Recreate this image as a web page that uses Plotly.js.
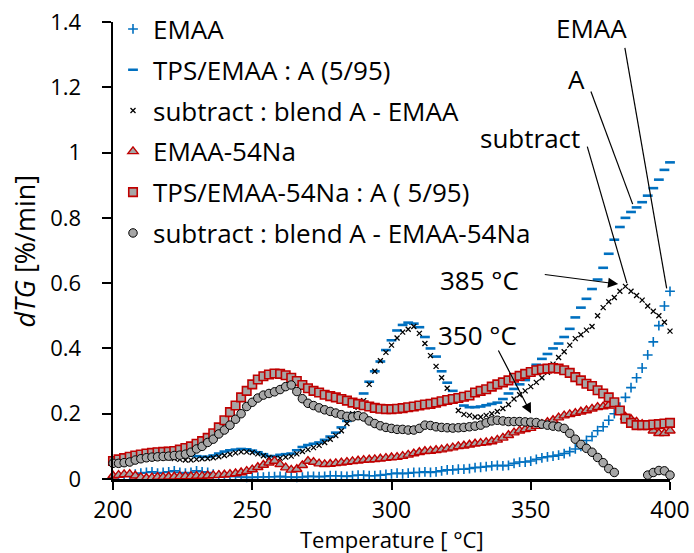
<!DOCTYPE html>
<html>
<head>
<meta charset="utf-8">
<script src="https://cdn.plot.ly/plotly-3.0.1.min.js"></script>
<style>
  html, body { margin: 0; padding: 0; background: #fff; }
  #chart { width: 694px; height: 553px; }
</style>
</head>
<body>
<div id="chart"></div>
<script>
// Temperature grid of the DTG runs [°C]
const tempC = [
  200,202,204,206,208,210,212,214,216,218,
  220,222,224,226,228,230,232,234,236,238,
  240,242,244,246,248,250,252,254,256,258,
  260,262,264,266,268,270,272,274,276,278,
  280,282,284,286,288,290,292,294,296,298,
  300,302,304,306,308,310,312,314,316,318,
  320,322,324,326,328,330,332,334,336,338,
  340,342,344,346,348,350,352,354,356,358,
  360,362,364,366,368,370,372,374,376,378,
  380,382,384,386,388,390,392,394,396,398,
  400
];

// dTG [%/min] — EMAA
const emaa = [
  0.005,0.008,0.010,0.012,0.015,0.018,0.020,0.022,0.018,0.020,
  0.022,0.025,0.020,0.018,0.020,0.025,0.022,0.020,0.015,0.012,
  0.010,0.008,0.008,0.006,0.005,0.005,0.006,0.006,0.007,0.007,
  0.008,0.006,0.006,0.005,0.006,0.008,0.008,0.007,0.008,0.010,
  0.010,0.009,0.008,0.010,0.012,0.012,0.010,0.010,0.012,0.014,
  0.016,0.018,0.016,0.018,0.020,0.020,0.022,0.020,0.022,0.025,
  0.028,0.028,0.030,0.030,0.032,0.035,0.036,0.038,0.040,0.042,
  0.040,0.042,0.048,0.052,0.052,0.055,0.060,0.065,0.068,0.070,
  0.073,0.078,0.084,0.092,0.100,0.118,0.130,0.148,0.160,0.180,
  0.200,0.220,0.250,0.280,0.310,0.340,0.380,0.420,0.470,0.530,
  0.575
];

// TPS/EMAA : A (5/95)
const blendA = [
  0.050,0.050,0.052,0.055,0.058,0.060,0.062,0.064,0.066,0.068,
  0.070,0.072,0.074,0.074,0.072,0.070,0.068,0.068,0.072,0.078,
  0.084,0.088,0.090,0.092,0.091,0.087,0.082,0.076,0.070,0.070,
  0.074,0.076,0.078,0.088,0.098,0.104,0.108,0.112,0.120,0.130,
  0.142,0.158,0.178,0.200,0.232,0.262,0.298,0.330,0.360,0.395,
  0.425,0.455,0.472,0.479,0.476,0.465,0.435,0.400,0.375,0.330,
  0.295,0.270,0.245,0.225,0.220,0.220,0.222,0.226,0.230,0.234,
  0.245,0.262,0.276,0.290,0.303,0.328,0.350,0.368,0.383,0.400,
  0.415,0.435,0.460,0.495,0.525,0.552,0.582,0.611,0.647,0.690,
  0.733,0.772,0.800,0.818,0.832,0.848,0.868,0.891,0.917,0.947,
  0.970
];

// subtract : blend A - EMAA
const subA = [
  0.055,0.056,0.058,0.060,0.062,0.064,0.065,0.066,0.066,0.066,
  0.065,0.063,0.060,0.058,0.058,0.060,0.062,0.063,0.065,0.068,
  0.072,0.076,0.080,0.083,0.083,0.081,0.077,0.071,0.066,0.063,
  0.064,0.067,0.070,0.077,0.084,0.090,0.096,0.103,0.112,0.122,
  0.133,0.148,0.170,0.200,0.220,0.240,0.290,0.330,0.362,0.388,
  0.410,0.432,0.450,0.459,0.467,0.446,0.415,0.378,0.345,0.310,
  0.278,0.245,0.210,0.198,0.195,0.190,0.190,0.195,0.200,0.207,
  0.216,0.228,0.245,0.258,0.270,0.283,0.296,0.310,0.327,0.352,
  0.372,0.390,0.410,0.430,0.442,0.456,0.467,0.500,0.525,0.543,
  0.556,0.575,0.590,0.575,0.562,0.548,0.530,0.514,0.500,0.480,
  0.453
];

// EMAA-54Na
const emaaNa = [
  0.010,0.012,0.014,0.015,0.010,0.005,0.003,0.004,0.006,0.006,
  0.007,0.007,0.008,0.008,0.008,0.009,0.009,0.010,0.011,0.012,
  0.013,0.015,0.017,0.020,0.024,0.029,0.036,0.043,0.050,0.055,
  0.045,0.035,0.028,0.030,0.042,0.055,0.052,0.047,0.045,0.046,
  0.048,0.050,0.052,0.054,0.056,0.058,0.059,0.060,0.062,0.064,
  0.066,0.067,0.070,0.074,0.078,0.082,0.085,0.086,0.088,0.090,
  0.093,0.096,0.100,0.102,0.105,0.108,0.110,0.112,0.115,0.120,
  0.126,0.134,0.142,0.148,0.152,0.156,0.162,0.168,0.174,0.180,
  0.188,0.194,0.198,0.202,0.206,0.210,0.215,0.220,0.222,0.226,
  0.224,0.205,0.190,0.183,0.175,0.168,0.160,0.148,0.140,0.140,
  0.148
];

// TPS/EMAA-54Na : A ( 5/95)
const blendNa = [
  0.055,0.060,0.064,0.068,0.072,0.075,0.078,0.080,0.082,0.083,
  0.084,0.086,0.090,0.095,0.100,0.108,0.116,0.126,0.140,0.158,
  0.180,0.205,0.225,0.250,0.270,0.290,0.305,0.315,0.320,0.323,
  0.322,0.318,0.310,0.300,0.288,0.278,0.270,0.265,0.258,0.254,
  0.250,0.245,0.240,0.234,0.230,0.226,0.222,0.218,0.215,0.214,
  0.214,0.215,0.217,0.220,0.222,0.225,0.228,0.230,0.234,0.238,
  0.242,0.245,0.248,0.252,0.256,0.265,0.270,0.275,0.283,0.290,
  0.296,0.302,0.310,0.316,0.322,0.328,0.333,0.336,0.338,0.340,
  0.338,0.333,0.325,0.312,0.302,0.292,0.285,0.272,0.262,0.250,
  0.235,0.210,0.185,0.172,0.165,0.165,0.165,0.167,0.168,0.170,
  0.172
];

// subtract : blend A - EMAA-54Na (negative part not shown)
const subNa = [
  0.048,0.048,0.050,0.052,0.058,0.062,0.065,0.067,0.068,0.069,
  0.070,0.072,0.073,0.076,0.082,0.092,0.100,0.112,0.122,0.138,
  0.150,0.165,0.183,0.200,0.222,0.235,0.248,0.257,0.262,0.267,
  0.274,0.283,0.288,0.268,0.246,0.232,0.225,0.218,0.212,0.207,
  0.202,0.197,0.192,0.190,0.194,0.190,0.178,0.170,0.163,0.158,
  0.155,0.152,0.152,0.150,0.150,0.155,0.165,0.164,0.160,0.158,
  0.157,0.156,0.157,0.158,0.160,0.162,0.165,0.172,0.178,0.180,
  0.178,0.176,0.176,0.176,0.175,0.174,0.173,0.168,0.165,0.162,
  0.160,0.155,0.140,0.122,0.106,0.094,0.082,0.066,0.050,0.032,
  0.020,null,null,null,null,null,0.012,0.020,0.026,0.025,
  0.012
];

const seriesNames = [
  'EMAA',
  'TPS/EMAA : A (5/95)',
  'subtract : blend A - EMAA',
  'EMAA-54Na',
  'TPS/EMAA-54Na : A ( 5/95)',
  'subtract : blend A - EMAA-54Na'
];

const xTicks = [200, 250, 300, 350, 400];
const yTicks = [0, 0.2, 0.4, 0.6, 0.8, 1, 1.2, 1.4];

const BLUE = '#0070C0';
const RED = '#C00000';
const GREY = '#A6A6A6';

function markerTrace(name, y, marker, group) {
  return {
    type: 'scatter', mode: 'markers', name: name,
    x: tempC, y: y, marker: marker,
    legendgroup: group, cliponaxis: false
  };
}

const traces = [
  markerTrace(seriesNames[0], emaa,
    {symbol: 'cross-thin', size: 7, color: BLUE, line: {color: BLUE, width: 1.6}}, 'g1'),
  markerTrace(seriesNames[1], blendA,
    {symbol: 'line-ew', size: 7, color: BLUE, line: {color: BLUE, width: 2.6}}, 'g2'),
  markerTrace(seriesNames[2], subA,
    {symbol: 'x-thin', size: 5, color: '#000', line: {color: '#000', width: 1.3}}, 'g3'),
  markerTrace(seriesNames[3], emaaNa,
    {symbol: 'triangle-up', size: 9, color: GREY, line: {color: RED, width: 1.4}}, 'g4'),
  markerTrace(seriesNames[4], blendNa,
    {symbol: 'square', size: 8.5, color: GREY, line: {color: RED, width: 1.6}}, 'g5'),
  markerTrace(seriesNames[5], subNa,
    {symbol: 'circle', size: 8.5, color: GREY, line: {color: '#000', width: 1}}, 'g6')
];

// Leader lines from the curve labels to their curves
const leaders = [
  {from: [383.8, 1.321], to: [398.8, 0.584]},
  {from: [371.6, 1.187], to: [386.6, 0.842]},
  {from: [370.3, 1.018], to: [384.5, 0.600]}
];
const shapes = leaders.map(l => ({
  type: 'line', xref: 'x', yref: 'y',
  x0: l.from[0], y0: l.from[1], x1: l.to[0], y1: l.to[1],
  line: {color: '#000', width: 1.2}
}));

const labelFont = {size: 26, color: '#000'};
const annotations = [
  {x: 371.9, y: 1.383, text: 'EMAA'},
  {x: 366.5, y: 1.224, text: 'A'},
  {x: 349.7, y: 1.045, text: 'subtract'},
  {x: 331.6, y: 0.610, text: '385 °C'},
  {x: 330.9, y: 0.441, text: '350 °C'}
].map(a => Object.assign({xref: 'x', yref: 'y', showarrow: false, font: labelFont,
                          xanchor: 'center', yanchor: 'middle'}, a));

// Arrows pointing at the peak temperatures
const arrows = [
  {tail: [354.5, 0.627], tip: [381.4, 0.597]},
  {tail: [338.1, 0.398], tip: [350.1, 0.201]}
];
arrows.forEach(a => annotations.push({
  xref: 'x', yref: 'y', axref: 'x', ayref: 'y',
  x: a.tip[0], y: a.tip[1], ax: a.tail[0], ay: a.tail[1],
  text: '', showarrow: true, arrowhead: 2, arrowsize: 1.7, arrowwidth: 1.2,
  arrowcolor: '#000', standoff: 0, startstandoff: 0
}));

// Axis titles
annotations.push({
  xref: 'paper', yref: 'paper', x: 0.5, y: -0.131, xanchor: 'center', yanchor: 'middle',
  showarrow: false, text: 'Temperature [ °C]', font: {size: 22, color: '#000'}
});
annotations.push({
  xref: 'paper', yref: 'paper', x: -0.158, y: 0.5, xanchor: 'center', yanchor: 'middle',
  showarrow: false, textangle: -90, text: '<i>dTG</i> [%/min]', font: {size: 27, color: '#000'}
});

const layout = {
  width: 694, height: 553,
  margin: {l: 113, r: 24, t: 22, b: 74, autoexpand: false},
  paper_bgcolor: '#fff', plot_bgcolor: '#fff',
  font: {family: '"Open Sans", "Noto Sans", sans-serif', color: '#000'},
  showlegend: true,
  legend: {
    x: 0.0, y: 1.036, xanchor: 'left', yanchor: 'top',
    font: {size: 26, color: '#000'}, bgcolor: 'rgba(0,0,0,0)',
    tracegroupgap: 4, itemwidth: 30
  },
  xaxis: {
    range: [200, 400], tickvals: xTicks, ticks: 'outside', ticklen: 8, tickwidth: 2,
    tickcolor: '#000', showline: true, linewidth: 2.5, linecolor: '#000',
    showgrid: false, zeroline: false, automargin: false,
    tickfont: {size: 23}, ticklabelstandoff: 1
  },
  yaxis: {
    range: [0, 1.4], tickvals: yTicks, ticks: 'outside', ticklen: 9, tickwidth: 2,
    tickcolor: '#000', showline: true, linewidth: 2.5, linecolor: '#000',
    showgrid: false, zeroline: false, automargin: false,
    tickfont: {size: 22}, ticklabelstandoff: 16
  },
  shapes: shapes,
  annotations: annotations
};

Plotly.newPlot('chart', traces, layout, {displayModeBar: false, staticPlot: true});
</script>
</body>
</html>
